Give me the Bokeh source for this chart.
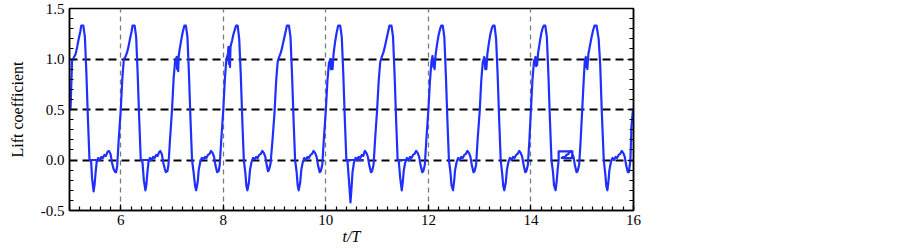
from bokeh.plotting import figure
from bokeh.models import FixedTicker, LinearAxis, NumeralTickFormatter, Range1d
from bokeh.embed import file_html
from bokeh.resources import INLINE

# digitized lift coefficient time history (t/T, Cl)
t_vals = [
    5.02, 5.05, 5.08, 5.12, 5.15, 5.18, 5.21, 5.23, 5.27, 5.30, 5.33, 5.36, 5.39, 5.60, 5.42, 5.44, 5.47, 5.49, 5.51, 5.53,
    5.56, 5.59, 5.62, 5.65, 5.68, 5.71, 5.74, 5.77, 5.80, 5.83, 5.86, 5.89, 5.91, 5.93, 5.96,
    6.00, 6.03, 6.06, 6.09, 6.12, 6.15, 6.18, 6.21, 6.23, 6.27, 6.30, 6.33, 6.36, 6.39, 6.58, 6.42, 6.45, 6.48, 6.50, 6.52,
    6.54, 6.57, 6.60, 6.63, 6.66, 6.69, 6.72, 6.75, 6.77, 6.80, 6.83, 6.86, 6.88, 6.91, 6.93, 6.96,
    7.00, 7.03, 7.06, 7.09, 7.10, 7.11, 7.12, 7.13, 7.15, 7.18, 7.21, 7.24, 7.27, 7.30, 7.33, 7.36, 7.39, 7.42, 7.45, 7.47,
    7.50, 7.52, 7.55, 7.58, 7.61, 7.64, 7.67, 7.70, 7.73, 7.76, 7.79, 7.82, 7.85, 7.88, 7.91, 7.93, 7.96,
    8.00, 8.03, 8.06, 8.09, 8.10, 8.11, 8.12, 8.13, 8.14, 8.17, 8.20, 8.23, 8.25, 8.28, 8.31, 8.34, 8.37, 8.40, 8.43, 8.45,
    8.47, 8.50, 8.52, 8.55, 8.58, 8.61, 8.64, 8.67, 8.70, 8.73, 8.76, 8.79, 8.82, 8.85, 8.87, 8.89, 8.92, 8.96,
    9.00, 9.03, 9.06, 9.09, 9.12, 9.15, 9.18, 9.21, 9.24, 9.28, 9.31, 9.34, 9.37, 9.40, 9.43, 9.45, 9.47, 9.50, 9.52, 9.55,
    9.58, 9.61, 9.64, 9.67, 9.70, 9.73, 9.76, 9.79, 9.82, 9.85, 9.88, 9.90, 9.93, 9.96,
    10.00, 10.03, 10.06, 10.09, 10.10, 10.12, 10.13, 10.15, 10.18, 10.21, 10.24, 10.28, 10.31, 10.34, 10.37, 10.40, 10.72,
    10.42, 10.45, 10.48, 10.50, 10.52, 10.55, 10.58, 10.61, 10.64, 10.67, 10.70, 10.73, 10.76, 10.79, 10.82, 10.85, 10.88,
    10.90, 10.93, 10.96,
    11.00, 11.03, 11.06, 11.09, 11.12, 11.15, 11.18, 11.21, 11.24, 11.28, 11.31, 11.34, 11.37, 11.40, 11.65, 11.42, 11.45,
    11.48, 11.50, 11.52, 11.55, 11.58, 11.61, 11.64, 11.67, 11.70, 11.73, 11.76, 11.79, 11.82, 11.85, 11.88, 11.90, 11.93,
    11.96,
    12.00, 12.03, 12.06, 12.08, 12.10, 12.11, 12.12, 12.14, 12.17, 12.20, 12.23, 12.25, 12.28, 12.31, 12.34, 12.37, 12.40,
    12.43, 12.45, 12.48, 12.50, 12.52, 12.55, 12.58, 12.61, 12.64, 12.67, 12.70, 12.73, 12.76, 12.79, 12.82, 12.85, 12.88,
    12.90, 12.93, 12.96,
    13.00, 13.03, 13.06, 13.09, 13.11, 13.12, 13.13, 13.15, 13.18, 13.21, 13.24, 13.26, 13.29, 13.32, 13.35, 13.38, 13.41,
    13.44, 13.46, 13.48, 13.51, 13.53, 13.56, 13.59, 13.62, 13.65, 13.68, 13.71, 13.74, 13.77, 13.80, 13.83, 13.86, 13.89,
    13.91, 13.94, 13.97,
    14.00, 14.03, 14.06, 14.09, 14.10, 14.11, 14.12, 14.14, 14.17, 14.20, 14.23, 14.25, 14.28, 14.31, 14.34, 14.37, 14.40,
    14.43, 14.45, 14.48, 14.50, 14.52, 14.54, 14.54, 14.81, 14.80, 14.60, 14.63, 14.66, 14.69, 14.73, 14.77, 14.80, 14.83,
    14.86, 14.89, 14.91, 14.94, 14.97,
    15.00, 15.03, 15.05, 15.07, 15.08, 15.09, 15.10, 15.12, 15.15, 15.18, 15.21, 15.24, 15.28, 15.32, 15.35, 15.38, 15.42,
    15.45, 15.47, 15.49, 15.51, 15.53, 15.56, 15.59, 15.62, 15.65, 15.68, 15.71, 15.74, 15.77, 15.80, 15.83, 15.86, 15.89,
    15.91, 15.94, 15.96, 15.99,
]
cl_vals = [
    0.50, 0.98, 1.01, 1.05, 1.12, 1.20, 1.27, 1.33, 1.33, 1.22, 0.85, 0.40, 0.00, 0.00, 0.00, -0.18, -0.31, -0.24, -0.12, -0.02,
    0.02, 0.00, 0.03, 0.02, 0.05, 0.04, 0.08, 0.09, 0.06, -0.03, -0.09, -0.12, -0.12, -0.06, 0.20,
    0.50, 0.80, 1.00, 1.02, 1.06, 1.12, 1.20, 1.27, 1.33, 1.33, 1.22, 0.85, 0.40, 0.00, 0.00, 0.00, -0.20, -0.30, -0.24, -0.12,
    -0.02, 0.02, 0.00, 0.03, 0.02, 0.05, 0.04, 0.08, 0.09, 0.06, -0.03, -0.09, -0.12, -0.11, -0.05, 0.20,
    0.50, 0.80, 0.98, 1.02, 0.90, 1.00, 0.88, 1.03, 1.10, 1.19, 1.27, 1.33, 1.33, 1.22, 0.85, 0.40, 0.00, -0.12, -0.26, -0.30,
    -0.22, -0.10, -0.02, 0.02, 0.01, 0.03, 0.02, 0.05, 0.06, 0.09, 0.07, 0.03, -0.06, -0.12, -0.11, -0.05, 0.20,
    0.50, 0.80, 1.00, 1.05, 1.12, 0.95, 1.10, 0.92, 1.12, 1.18, 1.25, 1.30, 1.33, 1.33, 1.20, 0.85, 0.40, 0.00, -0.13, -0.26,
    -0.30, -0.22, -0.10, -0.02, 0.02, 0.01, 0.03, 0.02, 0.05, 0.06, 0.09, 0.07, 0.03, -0.06, -0.11, -0.10, -0.04, 0.20,
    0.48, 0.78, 0.97, 1.02, 1.06, 1.12, 1.19, 1.26, 1.33, 1.33, 1.22, 0.85, 0.40, 0.00, -0.12, -0.25, -0.30, -0.22, -0.10, -0.02,
    0.02, 0.00, 0.03, 0.02, 0.05, 0.06, 0.09, 0.07, 0.03, -0.06, -0.12, -0.11, -0.05, 0.20,
    0.50, 0.78, 0.96, 1.00, 0.90, 0.98, 0.90, 1.05, 1.17, 1.26, 1.33, 1.33, 1.22, 0.85, 0.40, 0.00, 0.00,
    0.00, -0.20, -0.42, -0.28, -0.12, -0.02, 0.02, 0.01, 0.03, 0.02, 0.05, 0.04, 0.09, 0.07, 0.03, -0.06, -0.12,
    -0.11, -0.05, 0.20,
    0.50, 0.78, 0.97, 1.02, 1.06, 1.12, 1.19, 1.26, 1.33, 1.33, 1.22, 0.85, 0.40, 0.00, 0.00, 0.00, -0.18,
    -0.30, -0.22, -0.10, -0.02, 0.02, 0.00, 0.03, 0.02, 0.05, 0.06, 0.09, 0.07, 0.03, -0.06, -0.12, -0.11, -0.05,
    0.20,
    0.50, 0.78, 0.98, 1.03, 0.92, 1.00, 0.90, 1.04, 1.15, 1.24, 1.30, 1.33, 1.33, 1.22, 0.85, 0.40, 0.00,
    -0.12, -0.25, -0.30, -0.22, -0.10, -0.02, 0.02, 0.00, 0.03, 0.02, 0.05, 0.06, 0.09, 0.07, 0.03, -0.06, -0.12,
    -0.11, -0.05, 0.20,
    0.48, 0.78, 0.97, 1.02, 0.90, 1.00, 0.90, 1.05, 1.16, 1.25, 1.31, 1.33, 1.33, 1.20, 0.85, 0.40, 0.00,
    -0.14, -0.26, -0.30, -0.22, -0.10, -0.02, 0.02, 0.00, 0.03, 0.02, 0.05, 0.06, 0.09, 0.07, 0.03, -0.06, -0.12,
    -0.11, -0.05, 0.20,
    0.50, 0.80, 0.98, 1.02, 0.93, 1.01, 0.94, 1.06, 1.16, 1.25, 1.31, 1.33, 1.33, 1.22, 0.85, 0.40, 0.00,
    -0.12, -0.25, -0.30, -0.22, -0.10, 0.00, 0.085, 0.085, 0.02, 0.02, 0.03, 0.02, 0.05, 0.06, 0.09, 0.07, 0.03,
    -0.06, -0.12, -0.11, -0.05, 0.20,
    0.50, 0.80, 0.98, 1.02, 0.92, 1.00, 0.90, 1.05, 1.13, 1.21, 1.28, 1.33, 1.33, 1.20, 0.95, 0.50, 0.00,
    -0.14, -0.26, -0.30, -0.22, -0.10, -0.02, 0.02, 0.00, 0.03, 0.02, 0.05, 0.06, 0.09, 0.07, 0.03, -0.06, -0.12,
    -0.12, 0.00, 0.33, 0.50,
]

x_major_ticks = [6, 8, 10, 12, 14, 16]
x_minor_ticks = [round(5 + 0.2 * i, 1) for i in range(56)]
y_major_ticks = [-0.5, 0.0, 0.5, 1.0, 1.5]
y_minor_ticks = [round(-0.5 + 0.1 * i, 1) for i in range(21)]
x_grid_ticks = [6, 8, 10, 12, 14]
y_grid_ticks = [0.0, 0.5, 1.0]

SERIF = "Liberation Serif"

p = figure(width=903, height=248, x_range=Range1d(5, 16), y_range=Range1d(-0.5, 1.5),
           output_backend="svg", toolbar_location=None,
           min_border_left=69, min_border_right=270, min_border_top=8, min_border_bottom=38)
p.background_fill_color = "white"
p.border_fill_color = "white"
p.outline_line_color = "black"
p.outline_line_width = 1.5

p.line(t_vals, cl_vals, line_color="#1f2fff", line_width=2.2, line_join="round")

left = p.yaxis[0]
bottom = p.xaxis[0]
bottom.ticker = FixedTicker(ticks=x_major_ticks, minor_ticks=x_minor_ticks)
left.ticker = FixedTicker(ticks=y_major_ticks, minor_ticks=y_minor_ticks)
left.formatter = NumeralTickFormatter(format="0.0")

left.axis_label = "Lift coefficient"
left.axis_label_text_font = SERIF
left.axis_label_text_font_size = "16px"
left.axis_label_text_font_style = "normal"
left.axis_label_text_color = "black"
left.axis_label_standoff = 12

bottom.axis_label = "t/T"
bottom.axis_label_text_font = SERIF
bottom.axis_label_text_font_size = "16px"
bottom.axis_label_text_font_style = "italic"
bottom.axis_label_text_color = "black"
bottom.axis_label_text_align = "left"
bottom.axis_label_standoff = 0

right = LinearAxis(ticker=FixedTicker(ticks=y_major_ticks, minor_ticks=y_minor_ticks))
right.major_label_text_color = None
p.add_layout(right, "right")

for ax in [bottom, left, right]:
    ax.axis_line_color = "black"
    ax.axis_line_width = 1.5
    ax.major_tick_in = 6
    ax.major_tick_out = 0
    ax.minor_tick_in = 4
    ax.minor_tick_out = 0
    ax.major_tick_line_color = "black"
    ax.minor_tick_line_color = "black"
    ax.major_tick_line_width = 1.2
    ax.minor_tick_line_width = 1.2
    ax.major_label_text_font = SERIF
    ax.major_label_text_font_size = "15px"
    ax.major_label_standoff = 4
left.major_label_standoff = 5
bottom.major_label_text_color = "black"
left.major_label_text_color = "black"

p.xgrid.ticker = FixedTicker(ticks=x_grid_ticks)
p.ygrid.ticker = FixedTicker(ticks=y_grid_ticks)
p.xgrid.grid_line_color = "#7a7a7a"
p.xgrid.grid_line_width = 1.3
p.xgrid.grid_line_dash = "5 4"
p.ygrid.grid_line_color = "black"
p.ygrid.grid_line_width = 1.8
p.ygrid.grid_line_dash = "8 5"

open("out.html", "w").write(file_html(p, INLINE))
